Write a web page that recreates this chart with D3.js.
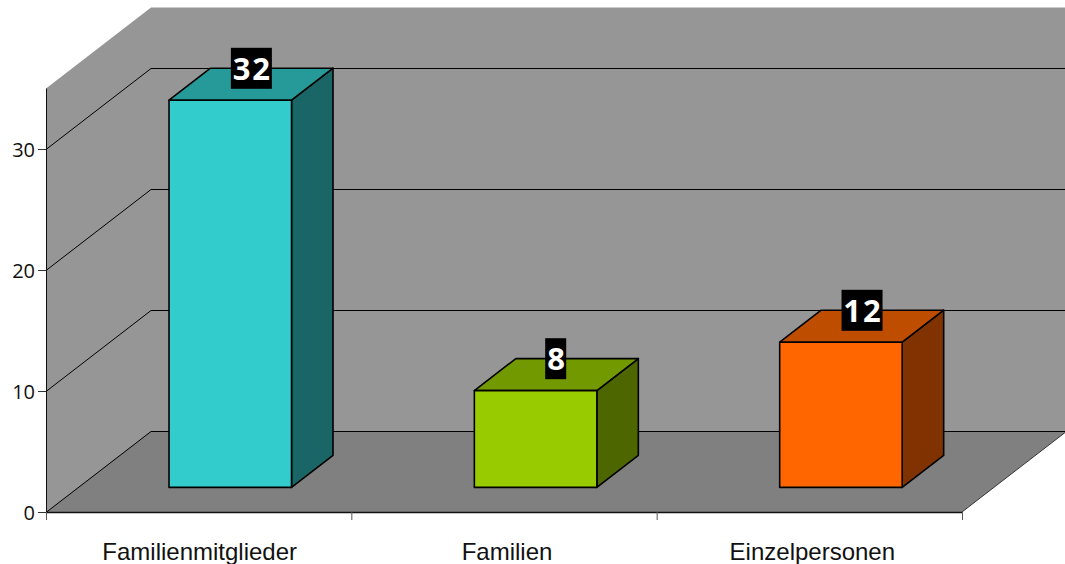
<!DOCTYPE html>
<html><head><meta charset="utf-8">
<script src="https://cdn.jsdelivr.net/npm/d3@7"></script>
<style>html,body{margin:0;padding:0;background:#fff;overflow:hidden}svg{display:block}</style>
</head><body><svg id="c" width="1065" height="564"></svg>
<script>
const categories = ["Familienmitglieder", "Familien", "Einzelpersonen"];
const values = [32, 8, 12];
const frontColors = ["#33cccc", "#99cc00", "#ff6600"];
const topColors = ["#269999", "#739900", "#bf4d00"];
const sideColors = ["#1a6666", "#4d6600", "#803300"];
const yTicks = [0, 10, 20, 30];
const yMax = 35;

const svg = d3.select("#c");
const x = d3.scaleBand().domain(categories).range([46, 962]).paddingInner(0).paddingOuter(0);
const y = d3.scaleLinear().domain([0, yMax]).range([512, 88.5]);
const zx = d3.scaleLinear().domain([0, 1]).range([0, 105]);
const zy = d3.scaleLinear().domain([0, 1]).range([0, -81]);
const P = (px, v, z) => [px + zx(z), y(v) + zy(z)];
const poly = pts => "M" + pts.map(p => p.join(",")).join("L") + "Z";
const xL = x.range()[0], xR = x.range()[1];

// back wall + left wall (clipped by the window on the right)
svg.append("path").attr("fill", "#969696")
  .attr("d", poly([P(xL,0,0), P(xL,yMax,0), P(xL,yMax,1), P(xR,yMax,1), P(xR,0,1)]));
// floor
svg.append("path").attr("fill", "#808080")
  .attr("d", poly([P(xL,0,0), P(xL,0,1), P(xR,0,1), P(xR,0,0)]));
// gridlines
yTicks.forEach(t => {
  svg.append("path").attr("fill", "none").attr("stroke", "#000").attr("stroke-width", 1)
    .attr("d", d3.line()([P(xL,t,0), P(xL,t,1), P(xR,t,1)].map(p => [p[0], p[1] + 0.5])));
});
// right floor edge
svg.append("path").attr("fill", "none").attr("stroke", "#333").attr("stroke-width", 1)
  .attr("d", d3.line()([P(xR,0,0), P(xR,0,1)]));

// bars
const z0 = 25 / 81, z1 = 57 / 81;
const barW = 122.5;
categories.forEach((c, i) => {
  const cx = x(c) + x.bandwidth() / 2 - 0.8;
  const l = cx - barW / 2, r = cx + barW / 2, v = values[i];
  const g = svg.append("g").attr("stroke", "#000").attr("stroke-width", 1.6).attr("stroke-linejoin", "round")
    .attr("transform", "translate(0,0.4)");
  g.append("path").attr("fill", sideColors[i]).attr("d", poly([P(r,0,z0), P(r,v,z0), P(r,v,z1), P(r,0,z1)]));
  g.append("path").attr("fill", topColors[i]).attr("d", poly([P(l,v,z0), P(r,v,z0), P(r,v,z1), P(l,v,z1)]));
  g.append("path").attr("fill", frontColors[i]).attr("d", poly([P(l,0,z0), P(r,0,z0), P(r,v,z0), P(l,v,z0)]));
});

// data labels
categories.forEach((c, i) => {
  const two = String(values[i]).length > 1;
  const cx = x(c) + x.bandwidth() / 2 + (two ? 53 : 52);
  const cy = y(values[i]) - 56.5;
  const w = two ? 41 : 21;
  svg.append("rect").attr("x", cx - w / 2 - 0.3).attr("y", cy - 20.5).attr("width", w).attr("height", 41).attr("fill", "#000");
  svg.append("text").attr("x", cx + (two ? 0.7 : 0)).attr("y", cy + 11.5).attr("text-anchor", "middle")
    .attr("fill", "#fff").attr("font-family", "'Open Sans'").attr("font-weight", 700)
    .attr("font-size", 31).attr("letter-spacing", two ? 2 : 0).text(values[i]);
});

// y axis
const ya = svg.append("g").attr("transform", `translate(${xL},0)`)
  .call(d3.axisLeft(y).tickValues(yTicks).tickSize(8).tickPadding(3).tickFormat(d3.format("d")));
ya.selectAll("text").attr("font-family", "'Open Sans'").attr("font-size", 20).attr("fill", "#111").attr("dy", "0.38em");
ya.selectAll("line").attr("stroke", "#333");
ya.select(".domain").attr("stroke", "#111").attr("d", `M0.5,${y(yMax)}V${y(0)}`);

// x axis: labels from the band scale, ticks at band edges
const xa = svg.append("g").attr("transform", `translate(0,${y(0)})`)
  .call(d3.axisBottom(x).tickSize(0).tickPadding(29));
xa.select(".domain").attr("stroke", "#111").attr("stroke-width", 1.3).attr("d", `M${xL},0.5H${xR}`);
xa.selectAll("text").attr("font-family", "'Liberation Sans'").attr("font-size", 24).attr("fill", "#111")
  .attr("dy", "0.79em").attr("dx", (d, i) => [1, 3, 3][i]);
const edges = categories.map(c => x(c)).concat([xR]);
const xt = svg.append("g").attr("transform", `translate(0,${y(0)})`)
  .call(d3.axisBottom(d3.scaleLinear().domain([xL, xR]).range([xL, xR])).tickValues(edges).tickSize(8).tickFormat(""));
xt.select(".domain").remove();
xt.selectAll("line").attr("stroke", "#555");
</script></body></html>
